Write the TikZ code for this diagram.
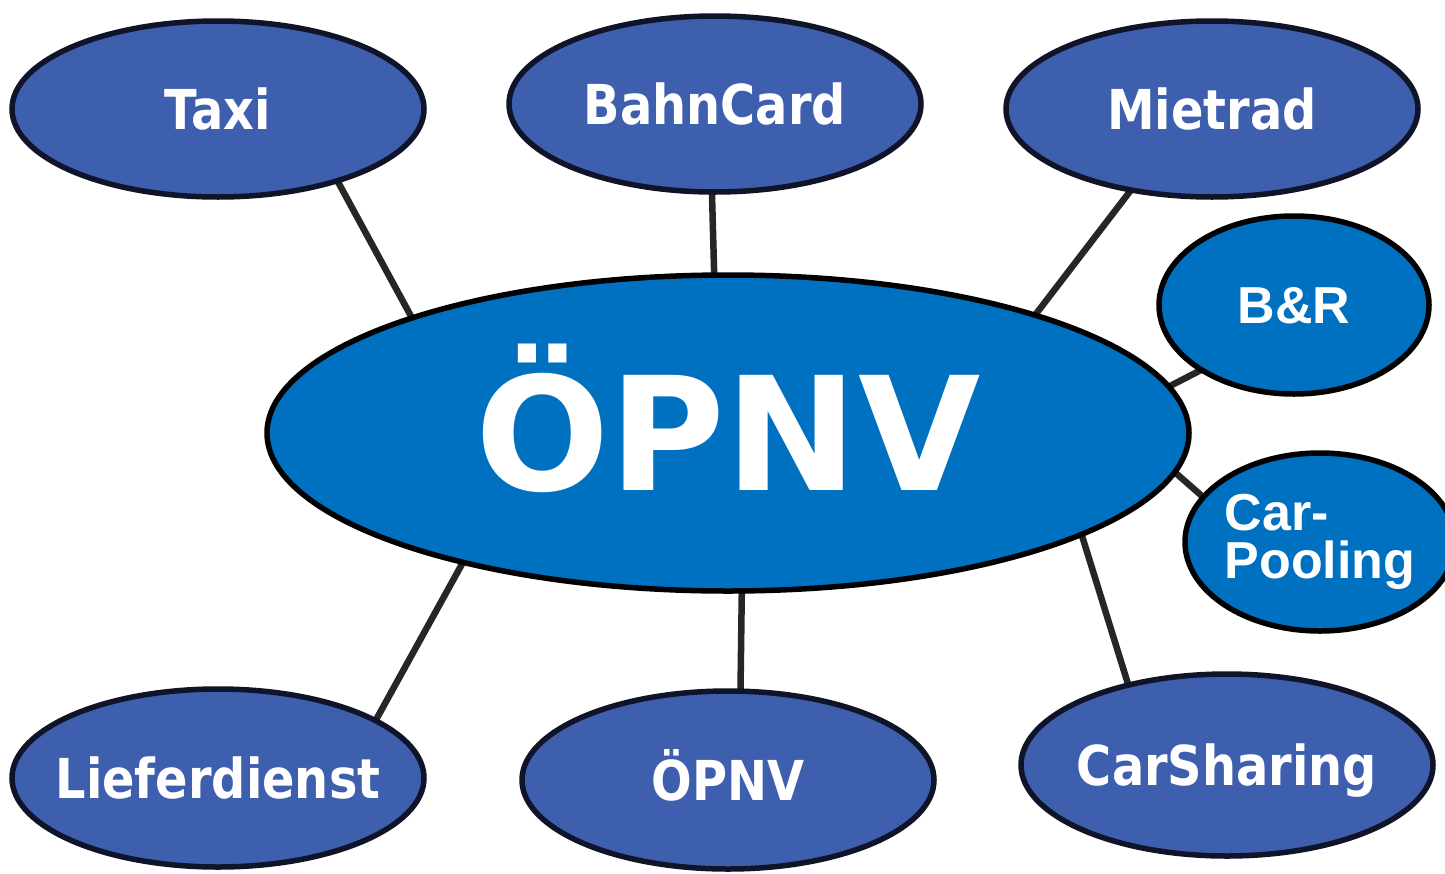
\documentclass[tikz,border=0pt]{standalone}
\usepackage{fontspec}
\usepackage{graphicx}
\usetikzlibrary{shapes.geometric,backgrounds}
\newfontfamily\dv{DejaVu Sans}
\newfontfamily\lib{Liberation Sans}
\definecolor{outerblue}{RGB}{62,94,174}
\definecolor{mainblue}{RGB}{0,112,192}
\definecolor{edgecol}{RGB}{16,20,40}
\newcommand\olab[1]{\makebox[0pt]{\scalebox{0.87}[1]{#1}}}
\tikzset{
  basebox/.style={ellipse, inner sep=0pt, outer sep=0pt, line width=5.5pt},
  outerbox/.style={basebox, draw=edgecol, fill=outerblue, minimum width=412pt, minimum height=176pt,
    text=white, font=\fontsize{55}{60}\dv\bfseries, text height=40pt, text depth=0pt},
  innerbox/.style={basebox, draw=black, fill=mainblue, text=white, font=\fontsize{52}{48}\lib\bfseries},
  link/.style={line width=6.5pt, draw=black!85}
}
\begin{document}
\begin{tikzpicture}[x=1pt,y=-1pt]
\clip (0,0) rectangle (1445,873);
\node[outerbox] (taxi) at (218,109) {\olab{Taxi}};
\node[outerbox] (bahncard) at (715,104) {\olab{BahnCard}};
\node[outerbox] (mietrad) at (1212,109) {\olab{Mietrad}};
\node[outerbox, minimum height=178pt] (liefer) at (218,778) {\olab{Lieferdienst}};
\node[outerbox, minimum height=178pt] (opnvb) at (728,780) {\olab{ÖPNV}};
\node[outerbox, minimum height=182pt] (carsh) at (1227,765) {\olab{CarSharing}};
\node[innerbox, minimum width=922pt, minimum height=316pt, font=\fontsize{158}{160}\dv\bfseries,
  text height=115pt, text depth=0pt] (main) at (728,433) {ÖPNV};
\node[innerbox, minimum width=270pt, minimum height=178pt, text height=37pt, text depth=0pt] (br) at (1294,305) {B\&R};
\node[innerbox, minimum width=270pt, minimum height=178pt, align=left] (cp) at (1320,542) {Car-\\Pooling};
\begin{scope}[on background layer]
\fill[white] (0,0) rectangle (1445,873);
\draw[link] (taxi.-31.5) -- (main.160.2);
\draw[link] (bahncard.-92) -- (main.95.7);
\draw[link] (mietrad.-135.3) -- (main.21.5);
\draw[link] (br.-145.3) -- (main.6.1);
\draw[link] (cp.159.1) -- (main.-5.9);
\draw[link] (carsh.141.6) -- (main.-16.5);
\draw[link] (opnvb.82.4) -- (main.-85.7);
\draw[link] (liefer.20.6) -- (main.-154.1);
\end{scope}
\end{tikzpicture}
\end{document}
